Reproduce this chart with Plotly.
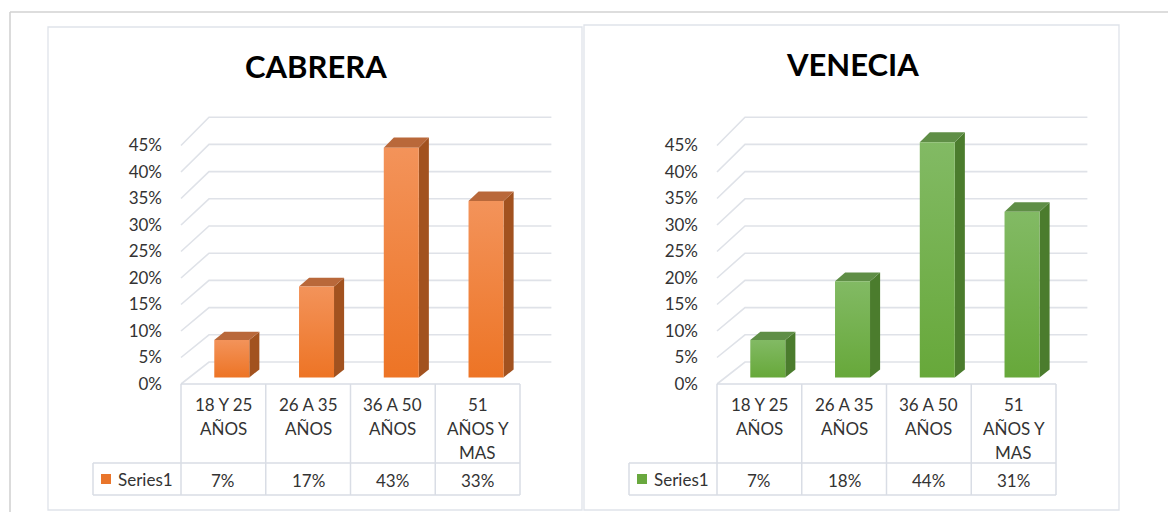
import plotly.graph_objects as go

# ---------------- data ----------------
categories = ["18 Y 25<br>AÑOS", "26 A 35<br>AÑOS", "36 A 50<br>AÑOS", "51<br>AÑOS Y<br>MAS"]
cabrera_values = [7, 17, 43, 33]
venecia_values = [7, 18, 44, 31]
panel_titles = ["CABRERA", "VENECIA"]
series_name = "Series1"
y_ticks = [0, 5, 10, 15, 20, 25, 30, 35, 40, 45]

# ---------------- styling / geometry (screen pixels) ----------------
SCREEN_W, SCREEN_H = 1176, 512
OFF = 8                                # default page margin around the figure
W, H = SCREEN_W - OFF, SCREEN_H - OFF  # figure size
FONT = "Lato, 'Open Sans', sans-serif"
TXT = "#333333"
GRID = "#dfe2e8"
TABLE = "#d9dde5"

COL_PX = 84.75          # px per category column
V_PX = 5.30             # px per percent (front plane)
ZERO_PX = 384           # screen row of 0% at front plane
DEPTH_DX = 28 / COL_PX  # oblique depth offset in category units
DEPTH_DY = 22 / V_PX    # oblique depth offset in percent units
PERSP = 0.0264          # slight vertical perspective growth with depth
D1, D2 = 0.30, 0.66     # bar front/back depth
HALF_W = 17.5 / COL_PX  # half bar width

palettes = [
    dict(bottom="#ED7425", top="#F3935A", side="#A2521F", cap="#B9683A", legend="#E9752B"),
    dict(bottom="#67A83A", top="#82BA64", side="#4B7C2D", cap="#5F8E46", legend="#69A83E"),
]
panel_origin_px = [181, 717]      # left edge of the category table for each panel
panel_domains = [[0.0, 0.5], [0.5, 1.0]]
panel_box_px = [(48, 27, 582, 510), (584, 25, 1119, 510)]
title_center_px = [(316, 66), (852, 64)]
axis_label_right_px = [162, 698]


def proj(x, v, d):
    return x + d * DEPTH_DX, v * (1 + PERSP * d) + d * DEPTH_DY


def ypx(py):
    return (ZERO_PX - py) / V_PX


def paper_x(px):
    return (px - OFF) / W


def paper_y(py):
    return 1 - (py - OFF) / H


fig = go.Figure()
shapes = []
annotations = []
n = len(categories)

for p, values in enumerate([cabrera_values, venecia_values]):
    xa = "x" if p == 0 else "x2"
    ya = "y" if p == 0 else "y2"
    pal = palettes[p]
    origin = panel_origin_px[p]
    shift = origin - panel_origin_px[0]

    def xpx(px):
        return (px - origin) / COL_PX - 0.5

    # ----- gridlines (side wall diagonals + back wall) -----
    gx, gy = [], []
    for t in y_ticks:
        a = proj(-0.5, t, 0)
        b = proj(-0.5, t, 1)
        c = proj(n - 0.5 + 0.04, t, 1)
        gx += [a[0], b[0], c[0], None]
        gy += [a[1], b[1], c[1], None]
    fig.add_trace(go.Scatter(x=gx, y=gy, mode="lines", xaxis=xa, yaxis=ya,
                             line=dict(color=GRID, width=1.6), hoverinfo="skip",
                             showlegend=False))

    # ----- bars -----
    for i, v in enumerate(values):
        xl, xr = i - HALF_W, i + HALF_W
        # side face
        pts = [proj(xr, 0, D1), proj(xr, v, D1), proj(xr, v, D2), proj(xr, 0, D2)]
        fig.add_trace(go.Scatter(x=[q[0] for q in pts] + [pts[0][0]], y=[q[1] for q in pts] + [pts[0][1]],
                                 mode="lines", fill="toself", fillcolor=pal["side"],
                                 line=dict(width=0, color=pal["side"]), xaxis=xa, yaxis=ya,
                                 hoverinfo="skip", showlegend=False))
        # top face
        pts = [proj(xl, v, D1), proj(xr, v, D1), proj(xr, v, D2), proj(xl, v, D2)]
        fig.add_trace(go.Scatter(x=[q[0] for q in pts] + [pts[0][0]], y=[q[1] for q in pts] + [pts[0][1]],
                                 mode="lines", fill="toself", fillcolor=pal["cap"],
                                 line=dict(width=0, color=pal["cap"]), xaxis=xa, yaxis=ya,
                                 hoverinfo="skip", showlegend=False))
        # front face with vertical gradient
        pts = [proj(xl, 0, D1), proj(xr, 0, D1), proj(xr, v, D1), proj(xl, v, D1)]
        fig.add_trace(go.Scatter(x=[q[0] for q in pts] + [pts[0][0]], y=[q[1] for q in pts] + [pts[0][1]],
                                 mode="lines", fill="toself",
                                 fillgradient=dict(type="vertical",
                                                   colorscale=[[0, pal["bottom"]], [1, pal["top"]]]),
                                 line=dict(width=0, color=pal["bottom"]), xaxis=xa, yaxis=ya,
                                 name=series_name, hovertemplate="%{y:.0f}%<extra></extra>",
                                 showlegend=False))

    # ----- data table -----
    row_top, row_mid, row_bot = ypx(ZERO_PX), ypx(463), ypx(495)
    leg_left = xpx(93 + shift)
    line = dict(color=TABLE, width=1.5)
    shapes.append(dict(type="line", xref=xa, yref=ya, x0=-0.5, x1=n - 0.5, y0=row_top, y1=row_top, line=line))
    shapes.append(dict(type="line", xref=xa, yref=ya, x0=leg_left, x1=n - 0.5, y0=row_mid, y1=row_mid, line=line))
    shapes.append(dict(type="line", xref=xa, yref=ya, x0=leg_left, x1=n - 0.5, y0=row_bot, y1=row_bot, line=line))
    shapes.append(dict(type="line", xref=xa, yref=ya, x0=leg_left, x1=leg_left, y0=row_mid, y1=row_bot, line=line))
    for k in range(n + 1):
        shapes.append(dict(type="line", xref=xa, yref=ya, x0=k - 0.5, x1=k - 0.5, y0=row_top, y1=row_bot, line=line))

    # legend key
    shapes.append(dict(type="rect", xref=xa, yref=ya, x0=xpx(101 + shift), x1=xpx(111 + shift),
                       y0=ypx(484), y1=ypx(474), fillcolor=pal["legend"], line=dict(width=0)))
    annotations.append(dict(xref=xa, yref=ya, x=xpx(116 + shift), y=ypx(479.5), text=series_name,
                            showarrow=False, xanchor="left", yanchor="middle",
                            font=dict(family=FONT, size=17, color=TXT)))

    # category labels and values
    for i, (cat, v) in enumerate(zip(categories, values)):
        for k, part in enumerate(cat.split("<br>")):
            annotations.append(dict(xref=xa, yref=ya, x=i, y=ypx(404.5 + 24 * k), text=part,
                                    showarrow=False, xanchor="center", yanchor="middle",
                                    font=dict(family=FONT, size=17, color=TXT)))
        annotations.append(dict(xref=xa, yref=ya, x=i, y=ypx(480), text=f"{v}%",
                                showarrow=False, xanchor="center", yanchor="middle",
                                font=dict(family=FONT, size=17, color=TXT)))

    # panel box and title
    bx0, by0, bx1, by1 = panel_box_px[p]
    shapes.append(dict(type="rect", xref="paper", yref="paper", x0=paper_x(bx0), x1=paper_x(bx1),
                       y0=paper_y(by1), y1=paper_y(by0), line=dict(color="#dfe3ea", width=1.3),
                       fillcolor="rgba(0,0,0,0)", layer="below"))
    tx, ty = title_center_px[p]
    annotations.append(dict(xref="paper", yref="paper", x=paper_x(tx), y=paper_y(ty),
                            text=f"<b>{panel_titles[p]}</b>",
                            showarrow=False, xanchor="center", yanchor="middle",
                            font=dict(family=FONT, size=31, color="#000000")))

# outer sheet frame
shapes.append(dict(type="line", xref="paper", yref="paper", x0=paper_x(10), x1=1, y0=paper_y(12), y1=paper_y(12),
                   line=dict(color="#d2d2d2", width=1.6)))
shapes.append(dict(type="line", xref="paper", yref="paper", x0=paper_x(10), x1=paper_x(10), y0=0, y1=paper_y(12),
                   line=dict(color="#d2d2d2", width=1.6)))

y_range = [ypx(SCREEN_H), ypx(OFF)]
axis_common = dict(range=y_range, tickvals=y_ticks, ticktext=[f"{t}%" for t in y_ticks],
                   showgrid=False, zeroline=False, showline=False, ticks="",
                   tickfont=dict(family=FONT, size=17, color=TXT), domain=[0, 1],
                   anchor="free", fixedrange=True)


def xrange_for(p):
    origin = panel_origin_px[p]
    d0, d1 = panel_domains[p]
    return [(OFF + d0 * W - origin) / COL_PX - 0.5, (OFF + d1 * W - origin) / COL_PX - 0.5]


fig.update_layout(
    width=W, height=H, autosize=False,
    margin=dict(l=0, r=0, t=0, b=0),
    paper_bgcolor="white", plot_bgcolor="rgba(0,0,0,0)",
    showlegend=False,
    xaxis=dict(domain=panel_domains[0], range=xrange_for(0), visible=False, anchor="y", fixedrange=True),
    xaxis2=dict(domain=panel_domains[1], range=xrange_for(1), visible=False, anchor="y2", fixedrange=True),
    yaxis=dict(position=paper_x(axis_label_right_px[0]), **axis_common),
    yaxis2=dict(position=paper_x(axis_label_right_px[1]), **axis_common),
    shapes=shapes,
    annotations=annotations,
)

fig.write_html("out.html")
